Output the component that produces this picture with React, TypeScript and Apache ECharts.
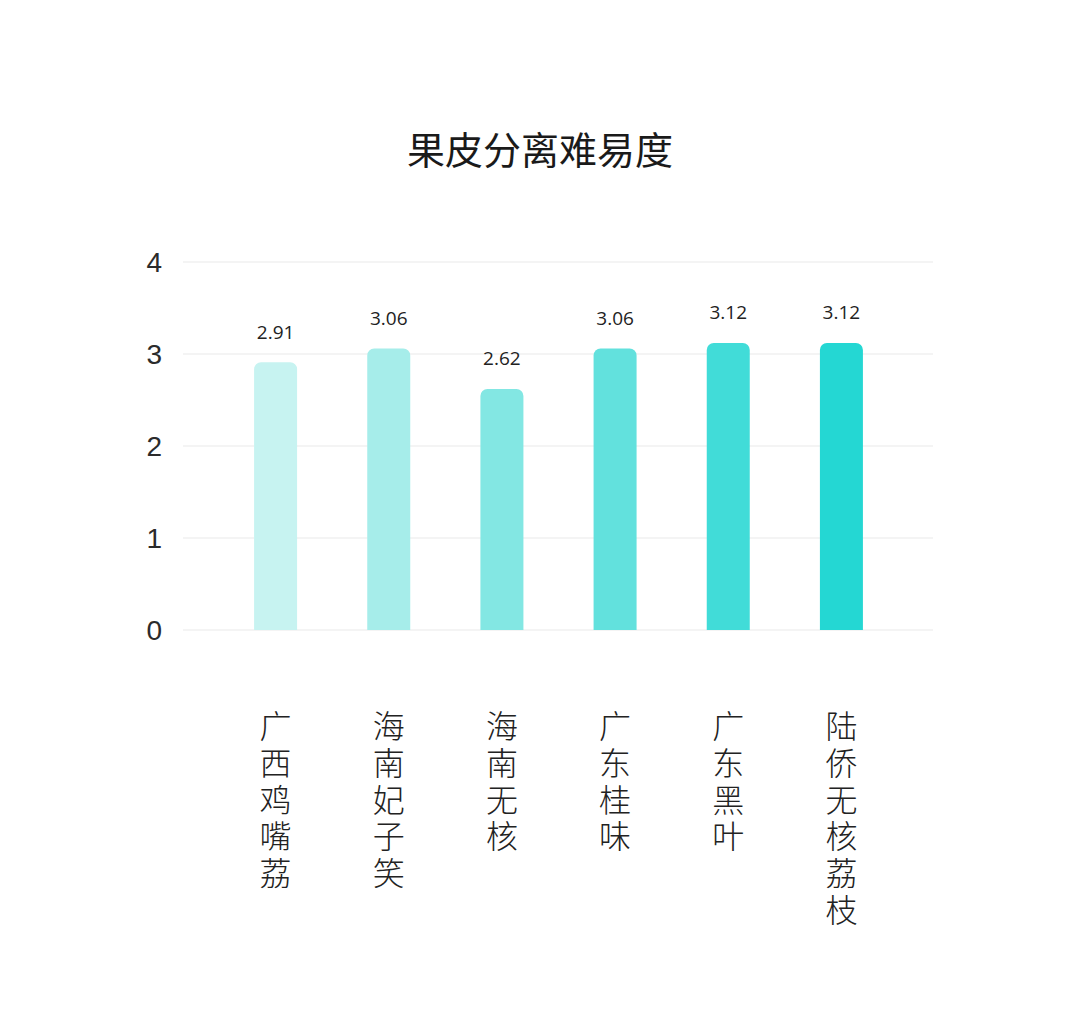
import { useEffect, useRef } from "react";
import * as echarts from "echarts";

const title = "果皮分离难易度";
const categories = ["广西鸡嘴荔", "海南妃子笑", "海南无核", "广东桂味", "广东黑叶", "陆侨无核荔枝"];
const values = [2.91, 3.06, 2.62, 3.06, 3.12, 3.12];
const barColors = ["#C7F3F1", "#A6EDEA", "#83E7E3", "#62E1DD", "#41DCD8", "#24D7D3"];
const yTicks = [0, 1, 2, 3, 4];

export default function App() {
  const chartRef = useRef<HTMLDivElement>(null);

  useEffect(() => {
    if (!chartRef.current) return;
    const chart = echarts.init(chartRef.current, null, { renderer: "svg" });

    chart.setOption({
      animation: false,
      backgroundColor: "#ffffff",
      title: {
        text: title,
        left: "center",
        top: 123,
        textStyle: {
          fontFamily: "Noto Sans CJK SC",
          fontSize: 38,
          fontWeight: "normal",
          color: "#1a1a1a",
        },
      },
      // grid 0 carries the wide split lines and y labels, grid 1 the bars
      grid: [
        { left: 183, right: 147, top: 262, bottom: 396 },
        { left: 219, right: 182, top: 262, bottom: 396 },
      ],
      xAxis: [
        { type: "value", gridIndex: 0, min: 0, max: 1, show: false },
        {
          type: "category",
          gridIndex: 1,
          data: categories.map((c) => c.split("").join("\n")),
          axisLine: { show: false },
          axisTick: { show: false },
          axisLabel: {
            margin: 76,
            fontFamily: "Noto Sans CJK SC",
            fontSize: 32,
            lineHeight: 36.7,
            fontWeight: 300,
            color: "#222222",
            verticalAlign: "top",
          },
        },
      ],
      yAxis: [
        {
          type: "value",
          gridIndex: 0,
          min: yTicks[0],
          max: yTicks[yTicks.length - 1],
          interval: 1,
          axisLine: { show: false },
          axisTick: { show: false },
          axisLabel: {
            margin: 21,
            fontFamily: "Liberation Sans",
            fontSize: 28,
            color: "#2b2b2b",
          },
          splitLine: { lineStyle: { color: "#f0f0f0", width: 1.5 } },
        },
        {
          type: "value",
          gridIndex: 1,
          min: yTicks[0],
          max: yTicks[yTicks.length - 1],
          interval: 1,
          show: false,
          splitLine: { show: false },
        },
      ],
      series: [
        {
          type: "bar",
          xAxisIndex: 1,
          yAxisIndex: 1,
          barWidth: 43,
          data: values.map((v, i) => ({
            value: v,
            itemStyle: { color: barColors[i], borderRadius: [7, 7, 0, 0] },
          })),
          label: {
            show: true,
            position: "top",
            distance: 21,
            fontFamily: "Open Sans",
            fontSize: 19,
            color: "#222222",
            formatter: (p: { value: number }) => p.value.toFixed(2),
          },
        },
      ],
    });

    return () => {
      chart.dispose();
    };
  }, []);

  return (
    <div
      ref={chartRef}
      style={{ position: "absolute", left: 0, top: 0, width: 1080, height: 1026 }}
    />
  );
}
